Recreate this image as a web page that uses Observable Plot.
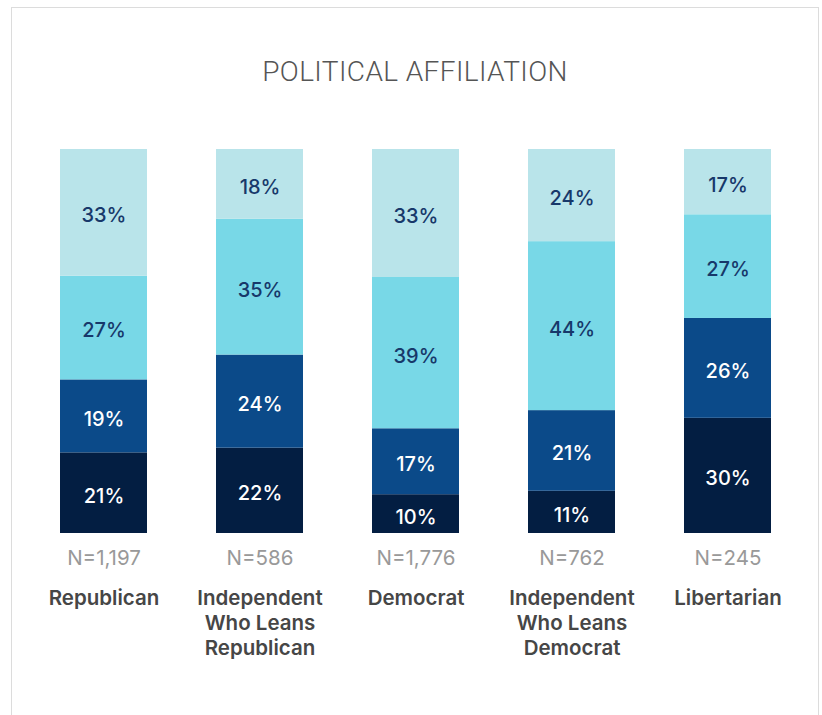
<!DOCTYPE html>
<html>
<head>
<meta charset="utf-8">
<script src="https://cdn.jsdelivr.net/npm/d3@7"></script>
<script src="https://cdn.jsdelivr.net/npm/@observablehq/plot@0.6"></script>
<style>
  html, body { margin: 0; padding: 0; background: #fff; }
  #wrap { position: relative; width: 822px; height: 715px; overflow: hidden; }
  #card { position: absolute; left: 11px; top: 7px; width: 808px; height: 760px; border: 1px solid #dcdcdc; box-sizing: border-box; }
  #title { position: absolute; left: 0; width: 830px; top: 54px; text-align: center; font-family: Roboto, "Liberation Sans", sans-serif; font-weight: 300; font-size: 28px; line-height: 36px; color: #555; letter-spacing: 0.4px; }
  #chart { position: absolute; left: 0; top: 0; }
</style>
</head>
<body>
<div id="wrap">
  <div id="card"></div>
  <div id="title">POLITICAL AFFILIATION</div>
  <div id="chart"></div>
</div>
<script>
const categories = ["Republican", "Independent\nWho Leans\nRepublican", "Democrat", "Independent\nWho Leans\nDemocrat", "Libertarian"];
const sampleSizes = ["N=1,197", "N=586", "N=1,776", "N=762", "N=245"];
const segments = ["Segment 1", "Segment 2", "Segment 3", "Segment 4"];
const seg1 = [21, 22, 10, 11, 30];
const seg2 = [19, 24, 17, 21, 26];
const seg3 = [27, 35, 39, 44, 27];
const seg4 = [33, 18, 33, 24, 17];
const segColors = ["#031e42", "#0b4a89", "#78d8e7", "#b9e4ea"];
const labelColors = ["#ffffff", "#ffffff", "#17386a", "#17386a"];

const seriesValues = [seg1, seg2, seg3, seg4];
const data = [];
segments.forEach((s, si) => {
  categories.forEach((c, ci) => {
    data.push({cat: c, seg: s, value: seriesValues[si][ci], n: sampleSizes[ci]});
  });
});
const labelColorOf = new Map(segments.map((s, i) => [s, labelColors[i]]));
const font = "Inter, 'Liberation Sans', sans-serif";

const chart = Plot.plot({
  width: 822,
  height: 715,
  marginTop: 149,
  marginBottom: 182,
  marginLeft: 28,
  marginRight: 20,
  style: {background: "transparent", overflow: "visible"},
  x: {domain: categories, padding: 0.443, paddingOuter: 0.2, axis: null},
  y: {axis: null},
  color: {domain: segments, range: segColors},
  marks: [
    Plot.barY(data, Plot.stackY({x: "cat", y: "value", z: "seg", fill: "seg", offset: "normalize"})),
    Plot.text(data, Plot.stackY({
      x: "cat", y: "value", z: "seg", offset: "normalize",
      text: d => d.value + "%",
      fill: d => labelColorOf.get(d.seg),
      fontSize: 20, fontWeight: 500, dy: 3,
      fontFamily: font
    })),
    Plot.text(categories, {
      x: d => d, text: (d, i) => sampleSizes[i], frameAnchor: "bottom",
      lineAnchor: "middle", dy: 25, fill: "#999", fontSize: 20.5,
      fontFamily: font
    }),
    Plot.text(categories, {
      x: d => d, text: d => d, frameAnchor: "bottom",
      lineAnchor: "top", dy: 54, lineHeight: 1.22, fill: "#464646", fontSize: 20.5, fontWeight: 600,
      fontFamily: font
    })
  ]
});
document.getElementById("chart").appendChild(chart);
</script>
</body>
</html>
